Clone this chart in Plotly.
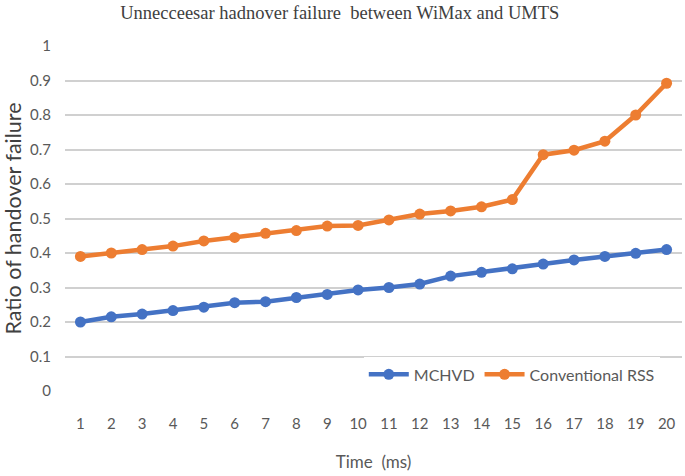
import plotly.graph_objects as go

time_ms = list(range(1, 21))
mchvd = [0.20, 0.215, 0.223, 0.233, 0.243, 0.256, 0.259, 0.271, 0.28, 0.293,
         0.30, 0.31, 0.333, 0.344, 0.354, 0.368, 0.38, 0.39, 0.399, 0.41]
conventional_rss = [0.39, 0.40, 0.41, 0.42, 0.435, 0.445, 0.457, 0.465, 0.478, 0.48,
                    0.496, 0.513, 0.522, 0.534, 0.555, 0.685, 0.698, 0.724, 0.80, 0.892]
y_ticks = [0, 0.1, 0.2, 0.3, 0.4, 0.5, 0.6, 0.7, 0.8, 0.9, 1]
y_tick_text = ["0", "0.1", "0.2", "0.3", "0.4", "0.5", "0.6", "0.7", "0.8", "0.9", "1"]

FONT = "Lato, Roboto, sans-serif"
GRAY = "#595959"

fig = go.Figure()
fig.add_trace(go.Scatter(x=time_ms, y=mchvd, name="MCHVD", mode="lines+markers",
                         line=dict(color="#4472C4", width=4.5),
                         marker=dict(color="#4472C4", size=11)))
fig.add_trace(go.Scatter(x=time_ms, y=conventional_rss, name="Conventional RSS", mode="lines+markers",
                         line=dict(color="#ED7D31", width=4.5),
                         marker=dict(color="#ED7D31", size=11)))

fig.update_layout(
    width=685, height=476,
    margin=dict(l=65, r=3, t=46, b=85, autoexpand=False),
    paper_bgcolor="white", plot_bgcolor="white",
    title=dict(text="Unnecceesar hadnover failure  between WiMax and UMTS",
               x=0.496, xanchor="center", y=0.973, yanchor="middle",
               font=dict(family="Liberation Serif, Times New Roman, serif", size=18.5, color="#404040")),
    font=dict(family=FONT, size=15, color=GRAY),
    xaxis=dict(range=[0.5, 20.5], tickmode="array", tickvals=time_ms, ticktext=[str(t) for t in time_ms],
               showgrid=False, zeroline=False, showline=False, ticks="", automargin=False,
               ticklabelstandoff=22,
               title=dict(text="Time  (ms)", font=dict(family=FONT, size=17, color=GRAY), standoff=25),
               tickfont=dict(family=FONT, size=15, color=GRAY)),
    yaxis=dict(range=[0, 1], tickmode="array", tickvals=y_ticks, ticktext=y_tick_text,
               showgrid=True, gridcolor="#D0D0D0", gridwidth=2, zeroline=False, showline=False, ticks="",
               ticklabelstandoff=13, automargin=False,
               title=dict(text="Ratio of handover failure", font=dict(family=FONT, size=21.5, color="#404040"), standoff=8),
               tickfont=dict(family=FONT, size=15, color=GRAY)),
    legend=dict(orientation="h", x=0.964, xanchor="right", y=0.048, yanchor="middle",
                bgcolor="white", font=dict(family=FONT, size=16, color=GRAY),
                itemwidth=40, tracegroupgap=0),
    showlegend=True,
)

fig.write_html("out.html", config={"displayModeBar": False},
               post_script="document.body.style.margin='0';")
